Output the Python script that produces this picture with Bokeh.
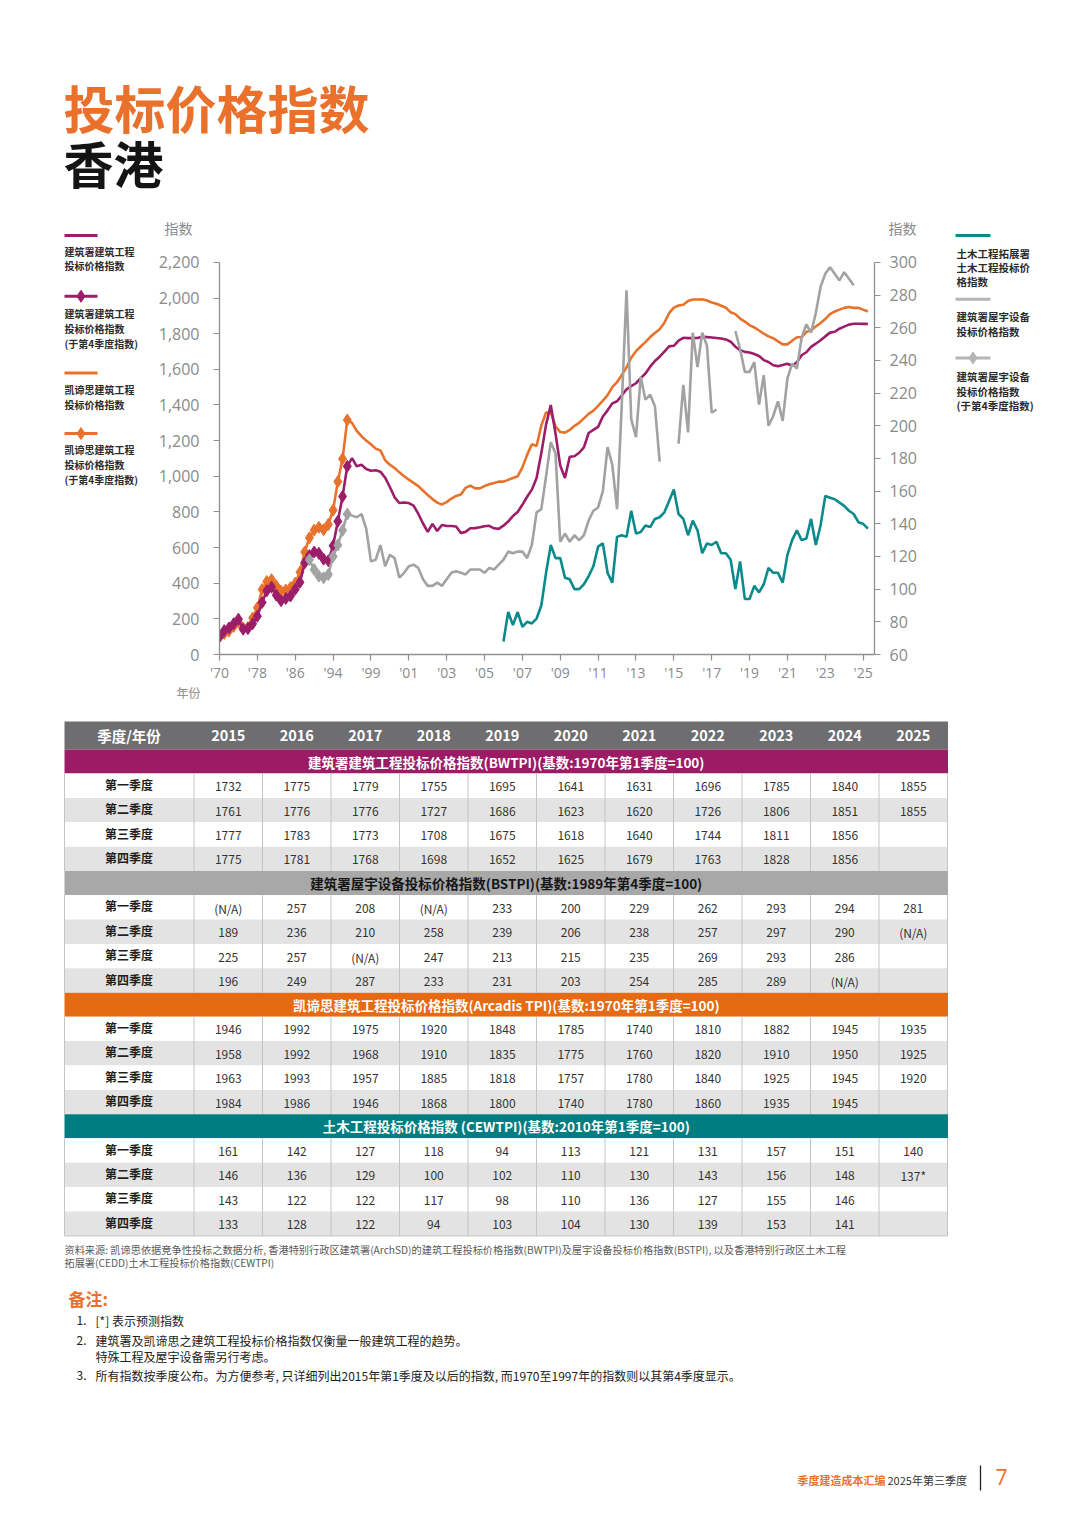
import numpy as np
from bokeh.plotting import figure
from bokeh.models import Range1d, LinearAxis, FixedTicker, NumeralTickFormatter, Label
from bokeh.layouts import column, row
from bokeh.embed import file_html
from bokeh.resources import INLINE
from bokeh.core.properties import value

# ---------------------------------------------------------------- data
# Q4 index values shown as diamonds (1970-1997)
ANNUAL_YEARS = list(range(1970, 1998))
BWTPI_Q4_1970_1997 = [100, 134, 149, 173, 198, 142, 145, 173, 215, 292, 358, 378, 333, 302,
                      314, 328, 366, 405, 514, 555, 575, 568, 535, 526, 610, 747, 887, 1056]
ARCADIS_Q4_1970_1997 = [100, 118, 132, 158, 182, 148, 152, 205, 262, 365, 410, 420, 385, 355,
                        362, 375, 400, 462, 575, 655, 698, 714, 700, 730, 810, 970, 1098, 1316]
BSTPI_YEARS = list(range(1989, 1998))
BSTPI_Q4_1989_1997 = [118, 112, 108, 107, 109, 120, 127, 136, 146]

# quarterly values, 1998Q1 - 2014Q4
BWTPI_QTR_1998_2014 = [1102, 1056, 1065, 1041, 1031, 1034, 1026, 992, 940, 882, 850, 853,
                       850, 835, 790, 735, 688, 733, 693, 727, 721, 721, 718, 682,
                       688, 708, 709, 714, 720, 722, 708, 705, 723, 746, 777, 800,
                       840, 885, 925, 990, 1130, 1290, 1400, 1240, 1060, 990, 1110, 1112,
                       1132, 1162, 1243, 1260, 1277, 1335, 1370, 1409, 1421, 1453, 1488, 1506,
                       1522, 1551, 1577, 1615, 1647, 1671, 1700, 1729]
ARCADIS_QTR_1998_2014 = [1300, 1255, 1225, 1200, 1180, 1155, 1145, 1090, 1065, 1046, 1022, 1000,
                         981, 963, 945, 920, 895, 872, 852, 842, 855, 875, 890, 898,
                         935, 948, 932, 932, 945, 955, 962, 970, 970, 980, 990, 1000,
                         1050, 1120, 1180, 1170, 1285, 1358, 1357, 1281, 1248, 1245, 1260, 1283,
                         1300, 1325, 1350, 1368, 1395, 1424, 1455, 1500, 1528, 1568, 1611, 1665,
                         1702, 1728, 1753, 1781, 1804, 1825, 1862, 1915]
BSTPI_QTR_1998_2014 = [145, 144, 146, 137, 117, 118, 127, 114, 121, 119, 107, 110,
                       114, 115, 113, 106, 102, 102, 104, 102, 106, 110, 111, 110,
                       109, 112, 112, 112, 110, 113, 112, 115, 118, 123, 122, 123,
                       123, 119, 127, 147, 149, 169, 190, 183, 129, 134, 129, 133,
                       130, 133, 142, 148, 150, 160, 187, 176, 149, 213, 283, 204,
                       193, 230, 216, 219, 212, 178, None, None]
CEWTPI_QTR_2006_2014 = [68, 86, 78, 86, 77, 80, 79, 82, 90, 110, 127, 119,
                        119, 107, 106, 100, 100, 103, 108, 114, 126, 128, 110, 104,
                        132, 133, 132, 148, 134, 135, 139, 138, 143, 144, 147, 154]

# table (2015 - 2025), rows = quarters
YEARS_TBL = ["2015", "2016", "2017", "2018", "2019", "2020", "2021", "2022", "2023", "2024", "2025"]
QTR_LABELS = ["第一季度", "第二季度", "第三季度", "第四季度"]
BWTPI_TBL = [
    ["1732", "1775", "1779", "1755", "1695", "1641", "1631", "1696", "1785", "1840", "1855"],
    ["1761", "1776", "1776", "1727", "1686", "1623", "1620", "1726", "1806", "1851", "1855"],
    ["1777", "1783", "1773", "1708", "1675", "1618", "1640", "1744", "1811", "1856", ""],
    ["1775", "1781", "1768", "1698", "1652", "1625", "1679", "1763", "1828", "1856", ""],
]
BSTPI_TBL = [
    ["(N/A)", "257", "208", "(N/A)", "233", "200", "229", "262", "293", "294", "281"],
    ["189", "236", "210", "258", "239", "206", "238", "257", "297", "290", "(N/A)"],
    ["225", "257", "(N/A)", "247", "213", "215", "235", "269", "293", "286", ""],
    ["196", "249", "287", "233", "231", "203", "254", "285", "289", "(N/A)", ""],
]
ARCADIS_TBL = [
    ["1946", "1992", "1975", "1920", "1848", "1785", "1740", "1810", "1882", "1945", "1935"],
    ["1958", "1992", "1968", "1910", "1835", "1775", "1760", "1820", "1910", "1950", "1925"],
    ["1963", "1993", "1957", "1885", "1818", "1757", "1780", "1840", "1925", "1945", "1920"],
    ["1984", "1986", "1946", "1868", "1800", "1740", "1780", "1860", "1935", "1945", ""],
]
CEWTPI_TBL = [
    ["161", "142", "127", "118", "94", "113", "121", "131", "157", "151", "140"],
    ["146", "136", "129", "100", "102", "110", "130", "143", "156", "148", "137*"],
    ["143", "122", "122", "117", "98", "110", "136", "127", "155", "146", ""],
    ["133", "128", "122", "94", "103", "104", "130", "139", "153", "141", ""],
]
CHART_LAST_QTR = (2025, 2)

LEFT_AXIS = (0, 2200, 200)
RIGHT_AXIS = (60, 300, 20)
TICK_YEARS = [1970, 1978, 1986, 1994, 1999, 2001, 2003, 2005, 2007, 2009, 2011, 2013,
              2015, 2017, 2019, 2021, 2023, 2025]
TICK_LABELS = ["'70", "'78", "'86", "'94", "'99", "'01", "'03", "'05", "'07", "'09", "'11",
               "'13", "'15", "'17", "'19", "'21", "'23", "'25"]

TABLE_TITLES = [
    "建筑署建筑工程投标价格指数(BWTPI)(基数:1970年第1季度=100)",
    "建筑署屋宇设备投标价格指数(BSTPI)(基数:1989年第4季度=100)",
    "凯谛思建筑工程投标价格指数(Arcadis TPI)(基数:1970年第1季度=100)",
    "土木工程投标价格指数 (CEWTPI)(基数:2010年第1季度=100)",
]

# ---------------------------------------------------------------- styles / layout
CJK_NAME = "Noto Sans CJK SC"
CJK = value(CJK_NAME)
PURPLE = "#9C1D69"
ORANGE = "#E8722B"
GREY = "#A2A2A2"
GREY_LEG = "#B5B5B5"
TEAL = "#0B8A8B"
TITLE_ORANGE = "#E9712B"
AXIS_C = "#8F8F8F"
LABEL_C = "#8A8A8A"
LEG_TXT = "#2B2B2B"

ROW_TOP, ROW_BOTTOM = 245, 684          # page pixels of the chart band
CH_BORDER_BOTTOM = 28
FRAME_TOP, FRAME_BOTTOM = ROW_TOP, ROW_BOTTOM - CH_BORDER_BOTTOM
AXIS_TOP_PX = 262                        # page y where the axes end (2,200 / 300)


def a_idx(year):
    return year - 1970


def q_idx(year, q):
    return 28 + (year - 1998) * 4 + (q - 1)


def num(s):
    s = s.replace("*", "").strip()
    if s == "" or "N/A" in s:
        return np.nan
    return float(s)


def table_series(tbl):
    xs, ys = [], []
    for yi, yr in enumerate(YEARS_TBL):
        for q in range(4):
            if (int(yr), q + 1) > CHART_LAST_QTR:
                break
            xs.append(q_idx(int(yr), q + 1))
            ys.append(num(tbl[q][yi]))
    return xs, ys


def quarterly(start_year, vals):
    xs, ys = [], []
    for k, v in enumerate(vals):
        xs.append(q_idx(start_year + k // 4, k % 4 + 1))
        ys.append(np.nan if v is None else float(v))
    return xs, ys


def extended_range(lo, hi):
    # frame reaches above the axis top; keep the same scale so `hi` lands at AXIS_TOP_PX
    span = (hi - lo) * (FRAME_BOTTOM - FRAME_TOP) / (FRAME_BOTTOM - AXIS_TOP_PX)
    return Range1d(lo, lo + span)


def canvas(x0, x1, y0, y1, bottom_border=0):
    f = figure(width=x1 - x0, height=y1 - y0, x_range=Range1d(x0, x1),
               y_range=Range1d(y1 - bottom_border, y0),
               output_backend="svg", toolbar_location=None,
               min_border_left=0, min_border_right=0, min_border_top=0,
               min_border_bottom=bottom_border, x_axis_type=None, y_axis_type=None)
    f.outline_line_color = None
    f.background_fill_color = "white"
    f.border_fill_color = "white"
    return f


def txt(f, x, y, s, size, color, bold=False, align="left", font=CJK, baseline="middle"):
    xs = x if isinstance(x, list) else [x]
    ys = y if isinstance(y, list) else [y]
    ss = s if isinstance(s, list) else [s]
    f.text(x=xs, y=ys, text=ss, text_font=font, text_font_size=f"{size}px",
           text_color=color, text_font_style="bold" if bold else "normal",
           text_align=align, text_baseline=baseline)


# ---------------------------------------------------------------- title area
top = canvas(0, 1072, 0, ROW_TOP)
txt(top, 63, 106, "投标价格指数", 51, TITLE_ORANGE, bold=True)
txt(top, 63, 161, "香港", 50, "#141414", bold=True)
txt(top, 178, 227, "指数", 14, LABEL_C, align="center")
txt(top, 902, 227, "指数", 14, LABEL_C, align="center")
top.line([64, 97], [235, 235], line_color=PURPLE, line_width=3)
top.line([955, 990], [235, 235], line_color=TEAL, line_width=3)

# ---------------------------------------------------------------- legends
legL = canvas(0, 155, ROW_TOP, ROW_BOTTOM, bottom_border=CH_BORDER_BOTTOM)
legL.line([64, 97], [296, 296], line_color=PURPLE, line_width=3)
legL.scatter([80.5], [296], marker="diamond", size=12, color=PURPLE)
legL.line([64, 97], [373, 373], line_color=ORANGE, line_width=3)
legL.line([64, 97], [434, 434], line_color=ORANGE, line_width=3)
legL.scatter([80.5], [434], marker="diamond", size=12, color=ORANGE)
txt(legL, [64] * 10, [251, 265, 313, 328, 343, 390, 405, 450, 465, 480],
    ["建筑署建筑工程", "投标价格指数", "建筑署建筑工程", "投标价格指数", "(于第4季度指数)",
     "凯谛思建筑工程", "投标价格指数", "凯谛思建筑工程", "投标价格指数", "(于第4季度指数)"],
    10, LEG_TXT, bold=True)

legR = canvas(940, 1072, ROW_TOP, ROW_BOTTOM, bottom_border=CH_BORDER_BOTTOM)
legR.line([955, 990], [299, 299], line_color=GREY_LEG, line_width=3)
legR.line([955, 990], [358, 358], line_color=GREY_LEG, line_width=3)
legR.scatter([972.5], [358], marker="diamond", size=12, color=GREY_LEG)
txt(legR, [956] * 8, [253, 267, 281, 316, 331, 377, 392, 406],
    ["土木工程拓展署", "土木工程投标价", "格指数", "建筑署屋宇设备", "投标价格指数",
     "建筑署屋宇设备", "投标价格指数", "(于第4季度指数)"],
    10.5, LEG_TXT, bold=True)

# ---------------------------------------------------------------- chart
p = figure(width=785, height=ROW_BOTTOM - ROW_TOP, x_range=Range1d(0, 138.4),
           y_range=extended_range(LEFT_AXIS[0], LEFT_AXIS[1]),
           output_backend="svg", toolbar_location=None,
           min_border_left=64, min_border_right=66,
           min_border_top=0, min_border_bottom=CH_BORDER_BOTTOM)
p.extra_y_ranges = {"r": extended_range(RIGHT_AXIS[0], RIGHT_AXIS[1])}
p.outline_line_color = None
p.grid.visible = False
p.background_fill_color = "white"
p.border_fill_color = "white"

tick_idx = [a_idx(y) if y < 1998 else q_idx(y, 1) for y in TICK_YEARS]
p.xaxis.ticker = FixedTicker(ticks=tick_idx)
p.xaxis.major_label_overrides = {tk: lb for tk, lb in zip(tick_idx, TICK_LABELS)}
p.yaxis.ticker = FixedTicker(ticks=list(range(LEFT_AXIS[0], LEFT_AXIS[1] + 1, LEFT_AXIS[2])))
p.yaxis.formatter = NumeralTickFormatter(format="0,0")
p.yaxis.bounds = (LEFT_AXIS[0], LEFT_AXIS[1])
rax = LinearAxis(y_range_name="r",
                 ticker=FixedTicker(ticks=list(range(RIGHT_AXIS[0], RIGHT_AXIS[1] + 1, RIGHT_AXIS[2]))),
                 bounds=(RIGHT_AXIS[0], RIGHT_AXIS[1]))
p.add_layout(rax, "right")

for ax in [p.xaxis[0], p.yaxis[0], rax]:
    ax.axis_line_color = AXIS_C
    ax.axis_line_width = 1.3
    ax.major_tick_line_color = AXIS_C
    ax.major_tick_line_width = 1.2
    ax.major_tick_out = 6
    ax.major_tick_in = 0
    ax.minor_tick_out = 0
    ax.minor_tick_in = 0
    ax.major_label_text_color = LABEL_C
    ax.major_label_text_font = "Open Sans"
p.xaxis[0].major_label_text_font_size = "14px"
p.xaxis[0].major_label_standoff = 2
p.yaxis[0].major_label_text_font_size = "16px"
p.yaxis[0].major_label_standoff = 14
rax.major_label_text_font_size = "16px"
rax.major_label_standoff = 9

LW = 2.6
# Arcadis TPI
ax_a = [a_idx(y) for y in ANNUAL_YEARS]
qx, qy = quarterly(1998, ARCADIS_QTR_1998_2014)
tx, ty = table_series(ARCADIS_TBL)
p.line(ax_a + qx + tx, ARCADIS_Q4_1970_1997 + qy + ty, line_color=ORANGE, line_width=LW)
p.scatter(ax_a, ARCADIS_Q4_1970_1997, marker="diamond", size=12, color=ORANGE)
# BWTPI
qx, qy = quarterly(1998, BWTPI_QTR_1998_2014)
tx, ty = table_series(BWTPI_TBL)
p.line(ax_a + qx + tx, BWTPI_Q4_1970_1997 + qy + ty, line_color=PURPLE, line_width=LW)
p.scatter(ax_a, BWTPI_Q4_1970_1997, marker="diamond", size=12, color=PURPLE)
# BSTPI (right axis)
ax_b = [a_idx(y) for y in BSTPI_YEARS]
qx, qy = quarterly(1998, BSTPI_QTR_1998_2014)
tx, ty = table_series(BSTPI_TBL)
p.line(ax_b + qx + tx, BSTPI_Q4_1989_1997 + qy + ty, line_color=GREY, line_width=LW,
       y_range_name="r")
p.scatter(ax_b, BSTPI_Q4_1989_1997, marker="diamond", size=12, color=GREY, y_range_name="r")
# CEWTPI (right axis)
qx, qy = quarterly(2006, CEWTPI_QTR_2006_2014)
tx, ty = table_series(CEWTPI_TBL)
p.line(qx + tx, qy + ty, line_color=TEAL, line_width=LW, y_range_name="r")

# ---------------------------------------------------------------- table + notes
t = canvas(0, 1072, ROW_BOTTOM, 1516)
txt(t, 188, 692, "年份", 12, LABEL_C, align="center")

T_L, T_R = 64, 947.5
COL0_R = 193.5
COL_W = 68.5
col_edges = [COL0_R + k * COL_W for k in range(12)]
col_ctr = [(col_edges[k] + col_edges[k + 1]) / 2 for k in range(11)]
LBL_CX = 128.5

t.quad(left=[T_L], right=[T_R], top=[721], bottom=[749], color="#6E6E70", line_color=None)
txt(t, LBL_CX, 735, "季度/年份", 14.5, "white", bold=True, align="center")
txt(t, col_ctr, [735] * 11, YEARS_TBL, 14.5, "white", bold=True, align="center")

BAND_H, ROW_H = 24, 24.4
sections = [
    (TABLE_TITLES[0], "#9B1B65", "white", BWTPI_TBL),
    (TABLE_TITLES[1], "#A8A8A8", "#161616", BSTPI_TBL),
    (TABLE_TITLES[2], "#E66A12", "white", ARCADIS_TBL),
    (TABLE_TITLES[3], "#007D80", "white", CEWTPI_TBL),
]
y = 749.0
for title, bcol, tcol, tbl in sections:
    t.quad(left=[T_L], right=[T_R], top=[y], bottom=[y + BAND_H], color=bcol, line_color=None)
    txt(t, (T_L + T_R) / 2, y + BAND_H / 2, title, 13.5, tcol, bold=True, align="center")
    y += BAND_H
    rows_top = y
    for r in range(4):
        fill = "white" if r % 2 == 0 else "#E3E3E3"
        t.quad(left=[T_L], right=[T_R], top=[y], bottom=[y + ROW_H], color=fill, line_color=None)
        cy = y + ROW_H / 2
        txt(t, LBL_CX, cy - 1.5, QTR_LABELS[r], 12, "#1E1E1E", bold=True, align="center")
        txt(t, col_ctr, [cy + 1] * 11, tbl[r], 12, "#333333", align="center")
        y += ROW_H
    xs = [T_L] + col_edges
    t.segment(x0=xs, y0=[rows_top] * len(xs), x1=xs, y1=[y] * len(xs),
              line_color="#C4C4C4", line_width=1)
t.segment(x0=[T_L], y0=[y], x1=[T_R], y1=[y], line_color="#C4C4C4", line_width=1)

txt(t, 64, 1249, "资料来源: 凯谛思依据竞争性投标之数据分析, 香港特别行政区建筑署(ArchSD)的建筑工程投标价格指数(BWTPI)及屋宇设备投标价格指数(BSTPI), 以及香港特别行政区土木工程",
    10.2, "#5A5A5A")
txt(t, 64, 1262, "拓展署(CEDD)土木工程投标价格指数(CEWTPI)", 10.2, "#5A5A5A")

txt(t, 68, 1298, "备注:", 17, TITLE_ORANGE, bold=True)
txt(t, [76, 76, 76], [1320, 1340, 1375], ["1.", "2.", "3."], 12, "#222222")
txt(t, [95, 95, 95, 95], [1320, 1340, 1356, 1375],
    ["[*] 表示预测指数",
     "建筑署及凯谛思之建筑工程投标价格指数仅衡量一般建筑工程的趋势。",
     "特殊工程及屋宇设备需另行考虑。",
     "所有指数按季度公布。为方便参考, 只详细列出2015年第1季度及以后的指数, 而1970至1997年的指数则以其第4季度显示。"],
    12, "#222222")

txt(t, 885, 1479, "季度建造成本汇编", 11, TITLE_ORANGE, bold=True, align="right")
txt(t, 887, 1479, "2025年第三季度", 11, "#333333")
t.segment(x0=[980], y0=[1465], x1=[980], y1=[1490], line_color="#222222", line_width=1.3)
txt(t, 1001, 1476, "7", 21, TITLE_ORANGE, align="center", font=value("Open Sans"))

layout = column(top, row(legL, p, legR), t)
open("out.html", "w").write(file_html(layout, INLINE, title="投标价格指数 香港"))
